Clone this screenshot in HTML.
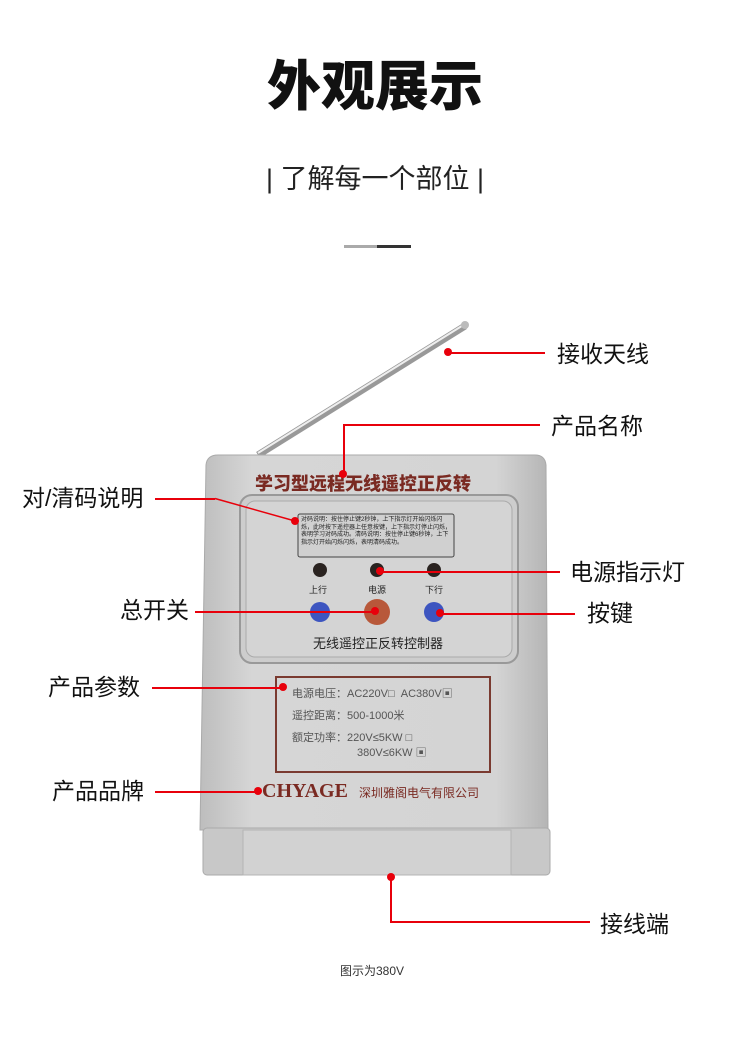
<!DOCTYPE html>
<html><head><meta charset="utf-8"><style>
body{margin:0;width:750px;height:1053px;background:#fff;position:relative;overflow:hidden;font-family:"Liberation Sans","Noto Sans CJK SC",sans-serif;}
.a{position:absolute;}
.t{position:absolute;color:#111;font-size:23px;white-space:nowrap;line-height:1;}
.l{position:absolute;background:#e8000b;}
.d{position:absolute;width:8px;height:8px;border-radius:50%;background:#e8000b;}
.br{color:#7a2a22;}
</style></head><body>
<div class="a" style="left:0;width:750px;top:60px;text-align:center;font-size:54px;font-weight:900;color:#111;line-height:1;">外观展示</div>
<div class="a" style="left:0;width:750px;top:166px;text-align:center;font-size:27px;color:#222;line-height:1;">| 了解每一个部位 |</div>
<div class="a" style="left:344px;top:245px;width:33px;height:3px;background:#aaa"></div>
<div class="a" style="left:377px;top:245px;width:34px;height:3px;background:#333"></div>

<svg class="a" style="left:0;top:0" width="750" height="1053">
<defs>
<linearGradient id="body" x1="0" y1="0" x2="1" y2="0"><stop offset="0" stop-color="#bdbdbd"/><stop offset=".15" stop-color="#d6d6d6"/><stop offset=".85" stop-color="#d4d4d4"/><stop offset="1" stop-color="#b5b5b5"/></linearGradient></defs>
<line x1="258" y1="455" x2="465" y2="326" stroke="#999" stroke-width="7"/>
<line x1="258" y1="453" x2="465" y2="324" stroke="#eee" stroke-width="2"/>
<circle cx="465" cy="325" r="4" fill="#bbb"/>
<path d="M218 455 L535 455 Q545 455 546 465 L548 830 L200 830 L206 465 Q207 455 218 455 Z" fill="url(#body)" stroke="#aaa"/>
<rect x="203" y="828" width="347" height="47" rx="4" fill="#c8c8c8" stroke="#aaa"/>
<rect x="243" y="830" width="268" height="45" fill="#d2d2d2" stroke="#b4b4b4"/>
<rect x="240" y="495" width="278" height="168" rx="12" fill="#cdcdcd" stroke="#999" stroke-width="2"/>
<rect x="246" y="501" width="266" height="156" rx="9" fill="#d4d4d4" stroke="#aaa"/>
<rect x="298" y="514" width="156" height="43" rx="2" fill="#d0d0d0" stroke="#444"/>
<circle cx="320" cy="570" r="7" fill="#2a2320"/><circle cx="377" cy="570" r="7" fill="#2a2320"/><circle cx="434" cy="570" r="7" fill="#2a2320"/>
<circle cx="320" cy="612" r="10" fill="#3d55c0"/><circle cx="377" cy="612" r="13" fill="#b8583a"/><circle cx="434" cy="612" r="10" fill="#3d55c0"/>
<rect x="276" y="677" width="214" height="95" fill="none" stroke="#7a3a30" stroke-width="2"/>
</svg>
<div class="a br" style="left:255px;top:470px;font-size:18px;font-weight:900;white-space:nowrap;">学习型远程无线遥控正反转</div>
<div class="a" style="left:301px;top:517px;font-size:6px;line-height:7.5px;width:152px;color:#222">对码说明：按住停止键2秒钟，上下指示灯开始闪烁闪烁，此时按下遥控器上任意按键，上下指示灯停止闪烁，表明学习对码成功。清码说明：按住停止键6秒钟，上下指示灯开始闪烁闪烁，表明清码成功。</div>
<div class="a" style="left:309px;top:583px;font-size:9px;color:#222">上行</div>
<div class="a" style="left:368px;top:583px;font-size:9px;color:#222">电源</div>
<div class="a" style="left:425px;top:583px;font-size:9px;color:#222">下行</div>
<div class="a" style="left:313px;top:633px;font-size:13px;color:#222;white-space:nowrap">无线遥控正反转控制器</div>
<div class="a" style="left:292px;top:685px;font-size:11px;color:#555;white-space:nowrap">电源电压：AC220V□&nbsp;&nbsp;AC380V▣</div>
<div class="a" style="left:292px;top:707px;font-size:11px;color:#555;white-space:nowrap">遥控距离：500-1000米</div>
<div class="a" style="left:292px;top:729px;font-size:11px;color:#555;white-space:nowrap">额定功率：220V≤5KW □</div>
<div class="a" style="left:357px;top:744px;font-size:11px;color:#555;white-space:nowrap">380V≤6KW ▣</div>
<div class="a br" style="left:262px;top:780px;font-size:20px;font-weight:900;font-family:'Liberation Serif',serif;">CHYAGE</div>
<div class="a br" style="left:359px;top:784px;font-size:12px;white-space:nowrap">深圳雅阁电气有限公司</div>

<div class="l" style="left:448px;top:352px;width:97px;height:1.5px"></div><div class="d" style="left:444px;top:348px"></div>
<div class="t" style="left:557px;top:343px">接收天线</div>
<div class="l" style="left:343px;top:424px;width:1.5px;height:50px"></div><div class="l" style="left:343px;top:424px;width:197px;height:1.5px"></div><div class="d" style="left:339px;top:470px"></div>
<div class="t" style="left:551px;top:415px">产品名称</div>
<div class="t" style="left:22px;top:487px">对/清码说明</div>
<div class="l" style="left:155px;top:498px;width:60px;height:1.5px"></div>
<svg class="a" style="left:0;top:0" width="750" height="1053"><line x1="215" y1="498.5" x2="295" y2="521" stroke="#e8000b" stroke-width="1.5"/></svg>
<div class="d" style="left:291px;top:517px"></div>
<div class="l" style="left:380px;top:571px;width:180px;height:1.5px"></div><div class="d" style="left:376px;top:567px"></div>
<div class="t" style="left:570px;top:561px">电源指示灯</div>
<div class="t" style="left:120px;top:599px">总开关</div>
<div class="l" style="left:195px;top:611px;width:180px;height:1.5px"></div><div class="d" style="left:371px;top:607px"></div>
<div class="l" style="left:440px;top:613px;width:135px;height:1.5px"></div><div class="d" style="left:436px;top:609px"></div>
<div class="t" style="left:587px;top:602px">按键</div>
<div class="t" style="left:48px;top:676px">产品参数</div>
<div class="l" style="left:152px;top:687px;width:131px;height:1.5px"></div><div class="d" style="left:279px;top:683px"></div>
<div class="t" style="left:52px;top:780px">产品品牌</div>
<div class="l" style="left:155px;top:791px;width:103px;height:1.5px"></div><div class="d" style="left:254px;top:787px"></div>
<div class="l" style="left:390px;top:877px;width:1.5px;height:45px"></div><div class="l" style="left:390px;top:921px;width:200px;height:1.5px"></div><div class="d" style="left:387px;top:873px"></div>
<div class="t" style="left:600px;top:913px">接线端</div>
<div class="a" style="left:340px;top:962px;font-size:12px;color:#333">图示为380V</div>
</body></html>
